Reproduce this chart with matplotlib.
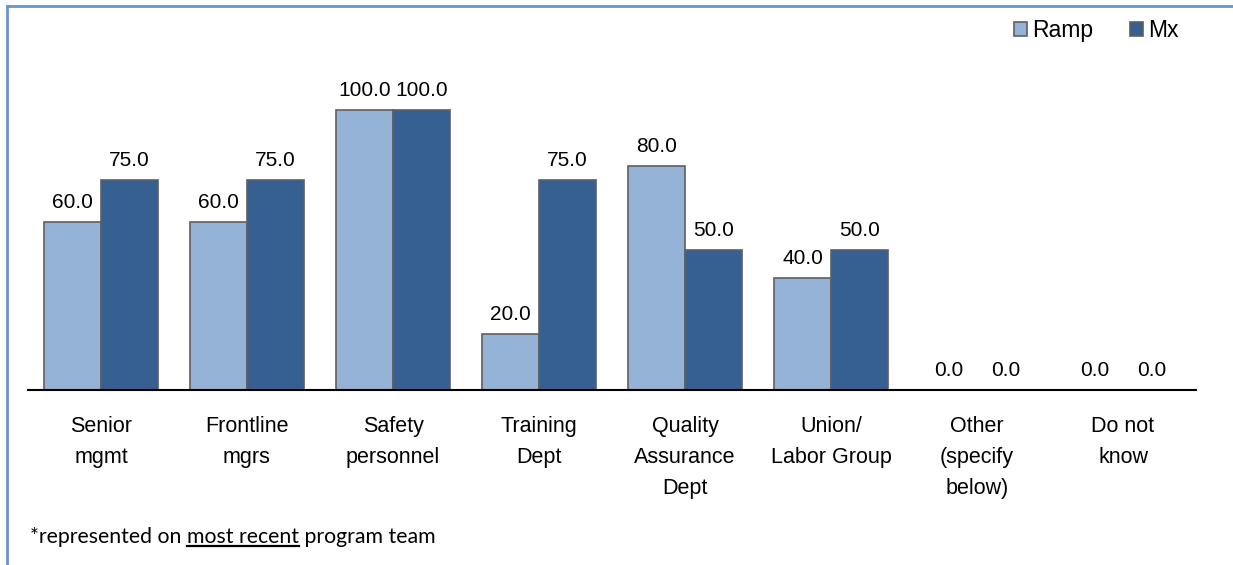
import numpy as np
import matplotlib.pyplot as plt
from matplotlib.lines import Line2D

categories = ["Senior\nmgmt", "Frontline\nmgrs", "Safety\npersonnel", "Training\nDept",
              "Quality\nAssurance\nDept", "Union/\nLabor Group", "Other\n(specify\nbelow)", "Do not\nknow"]
ramp = [60.0, 60.0, 100.0, 20.0, 80.0, 40.0, 0.0, 0.0]
mx = [75.0, 75.0, 100.0, 75.0, 50.0, 50.0, 0.0, 0.0]

plt.rcParams['font.family'] = ['Liberation Sans', 'DejaVu Sans']

fig = plt.figure(figsize=(12.33, 5.65), dpi=100)
ax = fig.add_axes([28 / 1233, 1 - 390 / 565, (1196 - 28) / 1233, 350 / 565])

x = np.arange(len(categories))
w = 0.387
edge = '#5f5f5f'
b1 = ax.bar(x - w / 2, ramp, w, color='#95b3d7', edgecolor=edge, linewidth=1.2, label='Ramp')
b2 = ax.bar(x + w / 2, mx, w, color='#366092', edgecolor=edge, linewidth=1.2, label='Mx')

for bars, vals in ((b1, ramp), (b2, mx)):
    for b, v in zip(bars, vals):
        ax.text(b.get_x() + b.get_width() / 2, v + 3.6, f"{v:.1f}", ha='center', va='bottom', fontsize=15)

ax.set_xlim(-0.5, len(categories) - 0.5)
ax.set_ylim(0, 125)
ax.set_yticks([])
for s in ('left', 'right', 'top'):
    ax.spines[s].set_visible(False)
ax.spines['bottom'].set_linewidth(1.5)
ax.set_xticks(x)
ax.set_xticklabels(categories, fontsize=15.5, linespacing=1.6, va='top')
ax.tick_params(axis='x', length=0, pad=19)

ax.legend(loc='upper right', bbox_to_anchor=(1.003, 1.118), ncol=2, frameon=False, fontsize=16.5,
          handlelength=0.55, handleheight=0.55, handletextpad=0.25, columnspacing=1.6)

# outer border (top and left only visible)
fig.add_artist(Line2D([7 / 1233, 7 / 1233], [0, 1 - 6 / 565], color='#6a94cc', linewidth=2,
                      transform=fig.transFigure))
fig.add_artist(Line2D([7 / 1233, 1], [1 - 6 / 565, 1 - 6 / 565], color='#6a94cc', linewidth=2,
                      transform=fig.transFigure))

# footnote with underlined part
fig.canvas.draw()
r = fig.canvas.get_renderer()
xpos = 30 / 1233
ypos = 1 - 543 / 565
parts = ["*represented on ", "most recent", " program team"]
for i, p in enumerate(parts):
    t = fig.text(xpos, ypos, p, fontsize=15.3, family=['Lato', 'DejaVu Sans'], ha='left', va='baseline')
    bb = t.get_window_extent(r)
    if i == 1:
        fig.add_artist(Line2D([bb.x0 / 1233, bb.x1 / 1233], [ypos - 3 / 565, ypos - 3 / 565],
                              color='black', linewidth=1.6, transform=fig.transFigure))
    xpos = bb.x1 / 1233

fig.savefig('out.png', dpi=100)
